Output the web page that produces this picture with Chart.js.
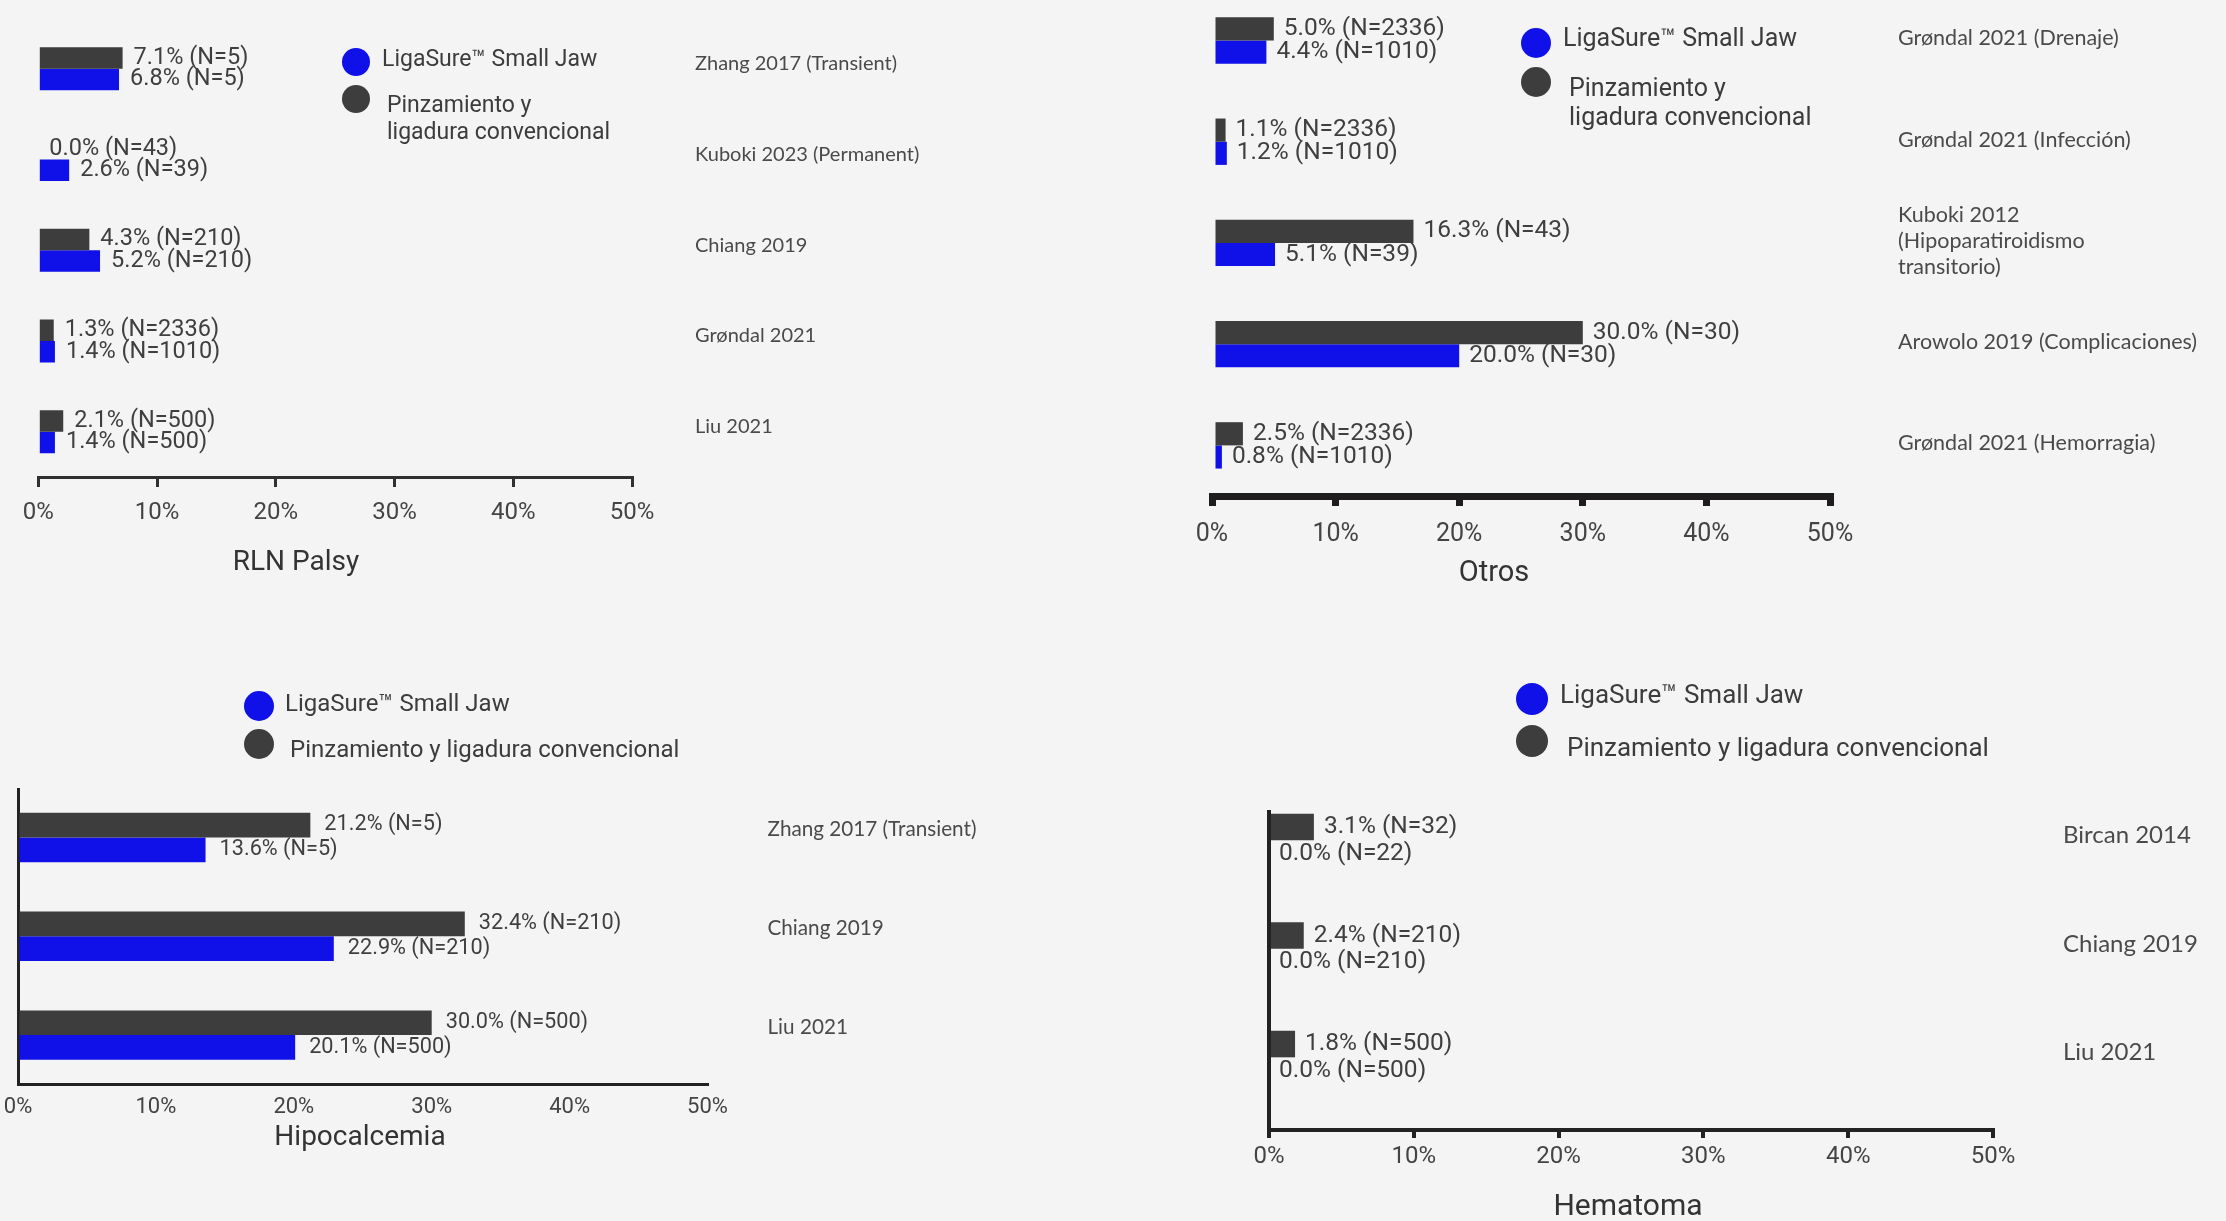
<!DOCTYPE html>
<html>
<head>
<meta charset="utf-8">
<script src="https://cdn.jsdelivr.net/npm/chart.js@4.4.1/dist/chart.umd.min.js"></script>
<style>
  html, body { margin: 0; padding: 0; background: #f4f4f4; width: 2226px; height: 1221px; overflow: hidden; }
  canvas { position: absolute; }
</style>
</head>
<body>
<script>
// ---------------- DATA ----------------
const seriesNames = ['LigaSure™ Small Jaw', 'Pinzamiento y ligadura convencional'];
const xTickValues = [0, 10, 20, 30, 40, 50];
const panelTitles = ['RLN Palsy', 'Otros', 'Hipocalcemia', 'Hematoma'];

const rlnStudies = ['Zhang 2017 (Transient)', 'Kuboki 2023 (Permanent)', 'Chiang 2019', 'Grøndal 2021', 'Liu 2021'];
const rlnLigaSure = [6.8, 2.6, 5.2, 1.4, 1.4];
const rlnLigaSureN = [5, 39, 210, 1010, 500];
const rlnConventional = [7.1, 0.0, 4.3, 1.3, 2.1];
const rlnConventionalN = [5, 43, 210, 2336, 500];

const otrosStudies = ['Grøndal 2021 (Drenaje)', 'Grøndal 2021 (Infección)', ['Kuboki 2012', '(Hipoparatiroidismo', 'transitorio)'], 'Arowolo 2019 (Complicaciones)', 'Grøndal 2021 (Hemorragia)'];
const otrosLigaSure = [4.4, 1.2, 5.1, 20.0, 0.8];
const otrosLigaSureN = [1010, 1010, 39, 30, 1010];
const otrosConventional = [5.0, 1.1, 16.3, 30.0, 2.5];
const otrosConventionalN = [2336, 2336, 43, 30, 2336];

const hipoStudies = ['Zhang 2017 (Transient)', 'Chiang 2019', 'Liu 2021'];
const hipoLigaSure = [13.6, 22.9, 20.1];
const hipoLigaSureN = [5, 210, 500];
const hipoConventional = [21.2, 32.4, 30.0];
const hipoConventionalN = [5, 210, 500];

const hemaStudies = ['Bircan 2014', 'Chiang 2019', 'Liu 2021'];
const hemaLigaSure = [0.0, 0.0, 0.0];
const hemaLigaSureN = [22, 210, 500];
const hemaConventional = [3.1, 2.4, 1.8];
const hemaConventionalN = [32, 210, 500];

// ---------------- STYLE / LAYOUT ----------------
const BLUE = '#1010e8';
const DARK = '#3d3d3d';
const NUM_FONT = 'Roboto';
const CAT_FONT = 'Lato';

const panels = [
  { title: panelTitles[0], studies: rlnStudies, lig: rlnLigaSure, ligN: rlnLigaSureN, conv: rlnConventional, convN: rlnConventionalN,
    box: [0, 0, 1113, 620], area: { l: 38.3, t: 23.4, r: 632, b: 477 }, yMin: -0.5, yMax: 4.5, catPct: 0.474,
    axis: { width: 3, color: '#303030', tick: 10, pad: 12, font: 24, zero: false },
    cat: { pad: 63, off: -5, font: 20 }, label: { size: 23.5, gap: 11 },
    titlePos: { x: 296, y: 563, size: 28 },
    legend: { cx: 356, cy0: 62, cy1: 99, r: 14, size: 23, tx0: 382, ty0: 60, tx1: 387, ty1: 106, lh: 27, wrap: true } },
  { title: panelTitles[1], studies: otrosStudies, lig: otrosLigaSure, ligN: otrosLigaSureN, conv: otrosConventional, convN: otrosConventionalN,
    box: [1113, 0, 1113, 620], area: { l: 1212, t: 0, r: 1830, b: 496 }, yMin: -0.4, yMax: 4.5, catPct: 0.458,
    axis: { width: 7, color: '#1e1c1d', tick: 10, pad: 14, font: 25, zero: false },
    cat: { pad: 68, off: -2, font: 21.5 }, label: { size: 24.5, gap: 10 },
    titlePos: { x: 1494, y: 574, size: 29 },
    legend: { cx: 1536, cy0: 43, cy1: 82, r: 15, size: 25, tx0: 1563, ty0: 40, tx1: 1569, ty1: 90, lh: 28.6, wrap: true } },
  { title: panelTitles[2], studies: hipoStudies, lig: hipoLigaSure, ligN: hipoLigaSureN, conv: hipoConventional, convN: hipoConventionalN,
    box: [0, 620, 1113, 601], area: { l: 18, t: 788, r: 707.5, b: 1084.5 }, yMin: -0.5, yMax: 2.5, catPct: 0.5,
    axis: { width: 3, color: '#222222', tick: 0, pad: 10, font: 22, zero: true },
    cat: { pad: 60, off: -8, font: 20.7 }, label: { size: 21.7, gap: 14 },
    titlePos: { x: 360, y: 1138, size: 28 },
    legend: { cx: 259, cy0: 706, cy1: 744, r: 15, size: 24, tx0: 285, ty0: 704.6, tx1: 290, ty1: 751, lh: 28, wrap: false } },
  { title: panelTitles[3], studies: hemaStudies, lig: hemaLigaSure, ligN: hemaLigaSureN, conv: hemaConventional, convN: hemaConventionalN,
    box: [1113, 620, 1113, 601], area: { l: 1269, t: 810, r: 1993, b: 1130 }, yMin: -0.28, yMax: 2.67, catPct: 0.49,
    axis: { width: 4, color: '#222222', tick: 8, pad: 5, font: 24, zero: true },
    cat: { pad: 70, off: -5, font: 24 }, label: { size: 24.5, gap: 10 },
    titlePos: { x: 1628, y: 1207, size: 30 },
    legend: { cx: 1532, cy0: 699, cy1: 741, r: 16, size: 26, tx0: 1560, ty0: 696.6, tx1: 1567, ty1: 749, lh: 28, wrap: false } }
];

const X_AXIS_H = 60;

const decorPlugin = {
  id: 'decor',
  afterDatasetsDraw(chart, args, o) {
    const ctx = chart.ctx;
    ctx.save();
    ctx.font = o.label.size + 'px ' + NUM_FONT;
    ctx.fillStyle = '#3f3f3f';
    ctx.textAlign = 'left';
    ctx.textBaseline = 'middle';
    chart.data.datasets.forEach((ds, di) => {
      chart.getDatasetMeta(di).data.forEach((bar, i) => {
        const v = ds.data[i].x;
        ctx.fillText(v.toFixed(1) + '% (N=' + ds.sampleSizes[i] + ')', bar.x + o.label.gap, bar.y);
      });
    });
    ctx.restore();
  },
  afterDraw(chart, args, o) {
    const ctx = chart.ctx;
    const ox = o.box[0], oy = o.box[1];
    ctx.save();
    // axis title
    ctx.font = o.titlePos.size + 'px ' + NUM_FONT;
    ctx.fillStyle = '#333333';
    ctx.textAlign = 'center';
    ctx.textBaseline = 'middle';
    ctx.fillText(o.title, o.titlePos.x - ox, o.titlePos.y - oy);
    // legend
    const L = o.legend;
    ctx.fillStyle = BLUE;
    ctx.beginPath(); ctx.arc(L.cx - ox, L.cy0 - oy, L.r, 0, Math.PI * 2); ctx.fill();
    ctx.fillStyle = DARK;
    ctx.beginPath(); ctx.arc(L.cx - ox, L.cy1 - oy, L.r, 0, Math.PI * 2); ctx.fill();
    ctx.font = L.size + 'px ' + NUM_FONT;
    ctx.fillStyle = '#3c3c3c';
    ctx.textAlign = 'left';
    ctx.fillText(seriesNames[0], L.tx0 - ox, L.ty0 - oy);
    const lines = L.wrap ? seriesNames[1].replace(' y ', ' y\n').split('\n') : [seriesNames[1]];
    lines.forEach((t, k) => ctx.fillText(t, L.tx1 - ox, L.ty1 - oy + k * L.lh));
    ctx.restore();
  }
};

panels.forEach((p, idx) => {
  const [bx, by, bw, bh] = p.box;
  const cv = document.createElement('canvas');
  cv.width = bw; cv.height = bh;
  cv.style.left = bx + 'px'; cv.style.top = by + 'px';
  cv.style.width = bw + 'px'; cv.style.height = bh + 'px';
  document.body.appendChild(cv);

  const yAxisW = (bx + bw) - p.area.r;
  const ax = p.axis;
  new Chart(cv, {
    type: 'bar',
    data: {
      datasets: [
        { label: seriesNames[1], data: p.conv.map((v, i) => ({ x: v, y: i })), sampleSizes: p.convN,
          backgroundColor: DARK, borderWidth: 0, categoryPercentage: p.catPct, barPercentage: 1 },
        { label: seriesNames[0], data: p.lig.map((v, i) => ({ x: v, y: i })), sampleSizes: p.ligN,
          backgroundColor: BLUE, borderWidth: 0, categoryPercentage: p.catPct, barPercentage: 1 }
      ]
    },
    options: {
      indexAxis: 'y',
      responsive: false,
      animation: false,
      events: [],
      layout: {
        autoPadding: false,
        padding: {
          left: p.area.l - bx,
          top: p.area.t - by,
          right: 0,
          bottom: (by + bh) - p.area.b - X_AXIS_H
        }
      },
      scales: {
        x: {
          type: 'linear', position: 'bottom', min: 0, max: 50,
          afterBuildTicks: s => { s.ticks = xTickValues.map(v => ({ value: v })); },
          afterFit: s => { s.height = X_AXIS_H; s.paddingLeft = 0; s.paddingRight = 0; },
          border: { display: true, color: ax.color, width: ax.width },
          grid: {
            display: true, drawOnChartArea: true,
            drawTicks: ax.tick > 0, tickLength: ax.tick, tickWidth: ax.width, tickColor: ax.color,
            lineWidth: ax.width,
            color: c => (ax.zero && c.tick && c.tick.value === 0) ? ax.color : 'rgba(0,0,0,0)'
          },
          ticks: { padding: ax.pad, color: '#444444', font: { family: NUM_FONT, size: ax.font },
                   maxRotation: 0, autoSkip: false, callback: v => v + '%' }
        },
        y: {
          type: 'linear', position: 'right', reverse: true, offset: false,
          min: p.yMin, max: p.yMax,
          afterBuildTicks: s => { s.ticks = p.studies.map((_, i) => ({ value: i })); },
          afterFit: s => { s.width = yAxisW; s.paddingTop = 0; s.paddingBottom = 0; },
          grid: { display: false, drawTicks: false },
          border: { display: false },
          ticks: { padding: p.cat.pad, labelOffset: p.cat.off, color: '#4a4a4a', crossAlign: 'near',
                   font: { family: CAT_FONT, size: p.cat.font, lineHeight: 1.2 },
                   autoSkip: false, callback: v => p.studies[v] }
        }
      },
      plugins: {
        legend: { display: false },
        tooltip: { enabled: false },
        title: { display: false },
        decor: { box: p.box, label: p.label, title: p.title, titlePos: p.titlePos, legend: p.legend }
      }
    },
    plugins: [decorPlugin]
  });
});
</script>
</body>
</html>
